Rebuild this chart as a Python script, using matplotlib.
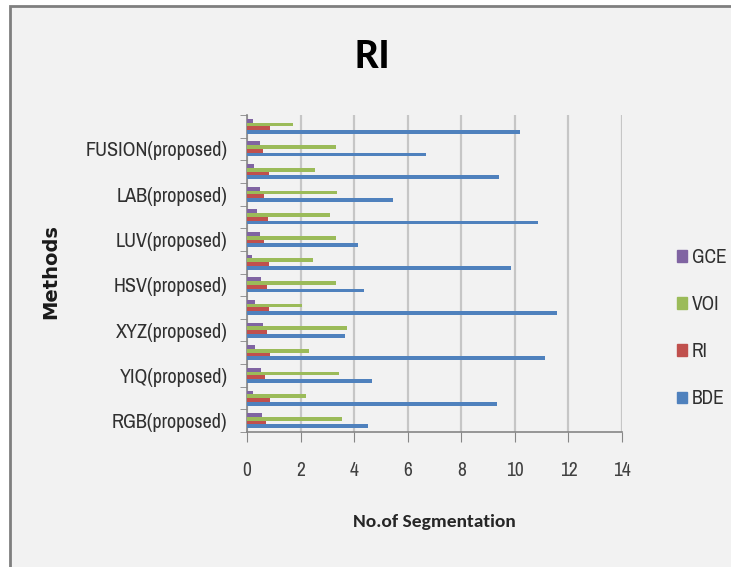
import numpy as np
import matplotlib.pyplot as plt
from matplotlib.patches import Rectangle, Patch

# Methods (labelled on every other row), bottom to top
methods = ["RGB(proposed)", "YIQ(proposed)", "XYZ(proposed)", "HSV(proposed)",
           "LUV(proposed)", "LAB(proposed)", "FUSION(proposed)"]
x_ticks = [0, 2, 4, 6, 8, 10, 12, 14]

# Measure values for the 14 rows, bottom to top
bde = [4.51, 9.34, 4.65, 11.13, 3.66, 11.58, 4.37, 9.85, 4.15, 10.87, 5.46, 9.40, 6.70, 10.21]
ri = [0.70, 0.86, 0.68, 0.86, 0.76, 0.83, 0.76, 0.83, 0.65, 0.78, 0.65, 0.83, 0.61, 0.86]
voi = [3.54, 2.20, 3.44, 2.30, 3.74, 2.04, 3.32, 2.47, 3.32, 3.09, 3.37, 2.55, 3.32, 1.73]
gce = [0.57, 0.22, 0.51, 0.31, 0.61, 0.31, 0.51, 0.20, 0.49, 0.36, 0.49, 0.27, 0.49, 0.21]

series = [("BDE", bde, "#4F81BD"), ("RI", ri, "#C0504D"),
          ("VOI", voi, "#9BBB59"), ("GCE", gce, "#8064A2")]

plt.rcParams["font.family"] = ["Archivo Narrow", "Carlito", "DejaVu Sans"]
bold_font = ["Carlito", "DejaVu Sans"]

fig = plt.figure(figsize=(7.31, 5.67), dpi=100, facecolor="white")
# chart frame
fig.patches.append(Rectangle((10 / 731, -0.05), 1.0, 1 - 6 / 567 + 0.05,
                             transform=fig.transFigure, facecolor="#f2f2f2",
                             edgecolor="#7f7f7f", linewidth=2, zorder=-5))

ax = fig.add_axes([247 / 731, 1 - 432 / 567, 375 / 731, 317 / 567])
ax.set_facecolor("none")

rows = np.arange(len(bde))
h = 0.165
for i, (name, vals, col) in enumerate(series):
    ax.barh(rows + (i - 1.5) * h, vals, height=h, color=col, label=name, zorder=3)

ax.set_xlim(0, 14)
ax.set_ylim(-0.5, len(bde) - 0.5)
ax.set_xticks(x_ticks)
ax.set_xticklabels([str(t) for t in x_ticks], fontsize=14, color="#404040")
ax.set_yticks(rows[::2])
ax.set_yticklabels(methods, fontsize=14.5, color="#303030")
ax.set_yticks(np.arange(-0.5, len(bde), 1), minor=True)
ax.tick_params(axis="y", which="major", length=0, pad=14)
ax.tick_params(axis="y", which="minor", length=5, color="#868686")
ax.tick_params(axis="x", length=7, color="#868686", pad=14)

ax.grid(axis="x", color="#c6c6c6", linewidth=1.6, zorder=0)
for s in ["top", "right"]:
    ax.spines[s].set_visible(False)
for s in ["left", "bottom"]:
    ax.spines[s].set_color("#868686")
    ax.spines[s].set_linewidth(1.2)

fig.text(372 / 731, 1 - 57 / 567, "RI", family=bold_font, fontsize=31, fontweight="bold",
         ha="center", va="center")
fig.text(434 / 731, 1 - 522 / 567, "No.of Segmentation", family=bold_font, fontsize=14,
         fontweight="bold", ha="center", va="center", color="#262626")
fig.text(51 / 731, 1 - 272 / 567, "Methods", family="DejaVu Sans", fontsize=14,
         fontweight="bold", rotation=90, ha="center", va="center", color="#1a1a1a")

handles = [Patch(color=c, label=n) for n, _, c in series[::-1]]
fig.legend(handles=handles, loc="center left", bbox_to_anchor=(659 / 731, 1 - 328 / 567),
           frameon=False, prop={"size": 14}, labelspacing=1.45,
           handlelength=0.55, handleheight=0.55, handletextpad=0.25,
           labelcolor="#303030")

fig.savefig("out.png", dpi=100, facecolor="white")
